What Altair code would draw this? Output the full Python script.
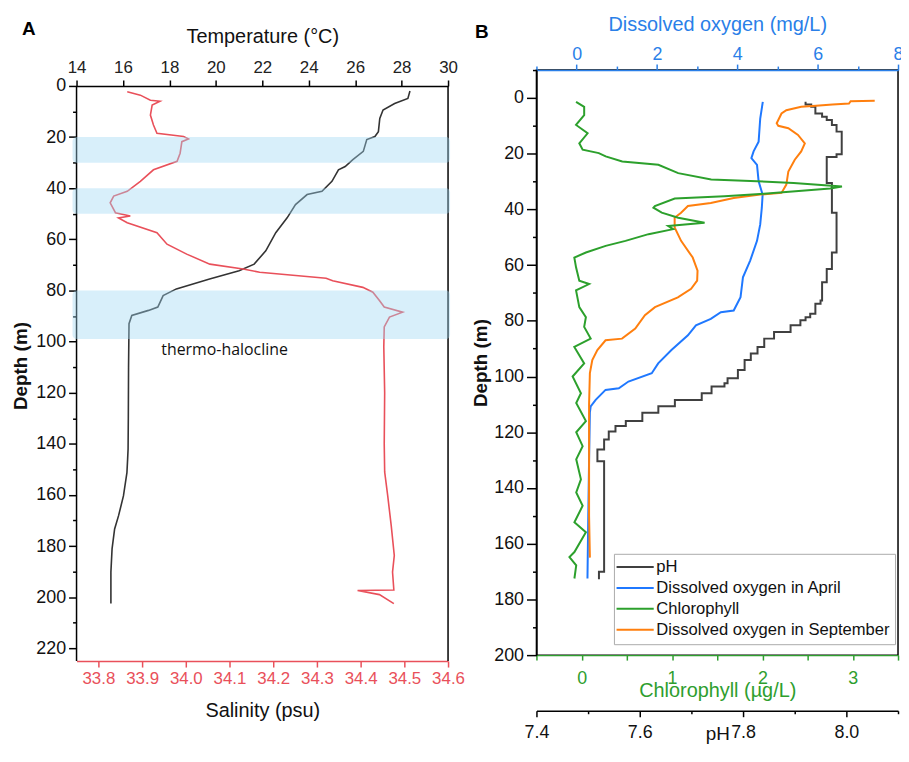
import altair as alt
import pandas as pd

FONT = "Liberation Sans"

# ---------------- Panel A data ----------------
temp_depth = [2, 4.9, 6.9, 9.4, 12.7, 17.9, 19.8, 21, 25.6, 28.8, 31.5, 32.8, 37.3, 41.2, 42.5,
              46.4, 51.6, 57.4, 64.5, 69.7, 72.3, 75.5, 79.4, 82, 86.5, 87.8, 89.8, 93, 110, 130,
              142, 146, 151.3, 160.4, 168.1, 173.3, 181.1, 190.2, 202.5]
temp_vals = [28.36, 28.27, 27.7, 27.2, 27.06, 27.0, 26.85, 26.5, 26.35, 25.9, 25.57, 25.28, 25.0,
             24.57, 23.93, 23.43, 23.07, 22.58, 22.15, 21.65, 21.0, 19.73, 18.3, 17.73, 17.5, 17.1,
             16.38, 16.26, 16.24, 16.23, 16.22, 16.2, 16.17, 16.02, 15.81, 15.64, 15.53, 15.48, 15.48]

sal_depth = [2.3, 3.6, 5.6, 6.0, 7.5, 11.4, 15.3, 18.5, 19.8, 20.7, 21.8, 26.3, 29.5, 32.8, 37.3,
             41.2, 43.1, 45.7, 49.6, 50.9, 51.6, 53.5, 57.4, 61.9, 65.8, 69.7, 71.6, 72.9, 75.2,
             76.2, 78.8, 80.7, 83.9, 86.5, 88.5, 90.4, 94.3, 102, 120, 140, 151, 160.4, 172,
             183.7, 190.2, 197.2, 197.4, 199, 202.5]
sal_vals = [33.866, 33.896, 33.919, 33.941, 33.923, 33.919, 33.926, 33.934, 33.995, 34.006, 33.991,
            33.987, 33.98, 33.926, 33.896, 33.866, 33.835, 33.827, 33.839, 33.873, 33.846, 33.866,
            33.934, 33.957, 34.002, 34.055, 34.131, 34.169, 34.321, 34.336, 34.405, 34.428, 34.443,
            34.454, 34.496, 34.466, 34.454, 34.453, 34.455, 34.454, 34.455, 34.462, 34.47, 34.477,
            34.473, 34.476, 34.393, 34.443, 34.476]

band_top = [20, 40, 80]
band_bottom = [30, 50, 99]

# ---------------- Panel B data ----------------
chl_depth = [1.4, 3.2, 6.2, 9.7, 12.7, 16.3, 18.6, 19.8, 21, 22.8, 24, 27, 29.3, 29.9, 30.5, 31.8,
             32.5, 34.4, 35.3, 36.1, 38.8, 39.4, 41.2, 43, 44.8, 46, 47.1, 48.9, 51.3, 53.1, 55.5,
             57.3, 60.8, 65.6, 66.8, 69.1, 75.1, 78.7, 82.2, 86.4, 89.4, 95.3, 100, 106, 109.5,
             116, 120, 125, 129.7, 136.9, 141.6, 146.4, 152.3, 155.9, 163, 164.8, 167.8, 172.5]
chl_vals = [-0.062, 0.028, 0.028, -0.062, 0.066, -0.026, 0.011, 0.19, 0.266, 0.449, 0.849, 1.068,
            1.433, 1.94, 2.345, 2.88, 2.75, 2.016, 1.58, 1.03, 0.81, 0.794, 0.886, 1.068, 1.36,
            0.958, 1.013, 0.74, 0.485, 0.266, 0.047, -0.081, -0.062, -0.026, 0.083, -0.062,
            -0.026, 0.047, 0.028, 0.10, -0.081, 0.028, -0.1, -0.008, -0.06, 0.047, -0.06, 0.011,
            -0.06, -0.008, -0.06, 0.011, -0.08, 0.047, -0.08, -0.135, -0.06, -0.08]

doa_depth = [1.4, 7.4, 15.7, 19.2, 21.6, 24, 29.9, 34.7, 39.4, 45.4, 51.3, 58.4, 64.4, 71.5, 76.3,
             76.9, 79.3, 81.6, 85.2, 90.5, 95.3, 98.8, 101.8, 104.2, 104.8, 108.4, 110.7, 113,
             130, 150, 172.5]
doa_vals = [4.634, 4.57, 4.53, 4.405, 4.35, 4.49, 4.53, 4.63, 4.61, 4.57, 4.49, 4.32, 4.14, 4.08,
            3.91, 3.59, 3.34, 2.97, 2.77, 2.36, 2.03, 1.87, 1.29, 1.05, 0.72, 0.474, 0.35, 0.33,
            0.31, 0.29, 0.27]

dos_depth = [1.0, 1.2, 2.0, 2.4, 2.8, 3.2, 4.4, 5.6, 9.1, 10, 10.9, 13.3, 16.3, 19.2, 22.2, 26.4,
             31.1, 34.1, 34.7, 35.9, 37.7, 38.8, 41.2, 43, 46.5, 51.3, 57.3, 62, 65.6, 68.5, 71.6,
             75.1, 78, 82.8, 86.4, 87, 90.5, 94.1, 98.8, 110, 130, 150, 165]
dos_vals = [7.42, 6.82, 6.78, 6.37, 5.96, 5.59, 5.22, 5.10, 4.98, 5.02, 5.27, 5.51, 5.68, 5.59,
            5.43, 5.27, 5.22, 5.10, 4.57, 3.91, 3.34, 2.77, 2.60, 2.44, 2.44, 2.60, 2.89, 3.01,
            3.0, 2.85, 2.52, 1.95, 1.70, 1.46, 1.13, 0.72, 0.516, 0.39, 0.33, 0.31, 0.31, 0.31,
            0.33]

ph_depth = [1.4, 2.4, 3.2, 5.6, 6.8, 7.9, 9.7, 12.1, 20.2, 21.2, 30.5, 41.2, 55.5, 61.4, 66.2,
            72.7, 73.9, 77.5, 78.7, 79.8, 81.6, 84, 86.4, 89.4, 91.7, 94.1, 97.7, 100.6, 102.4,
            103.6, 106, 108.4, 110.7, 113, 116, 117.8, 119.7, 122.6, 126.2, 130.4, 170.1, 172.8]
ph_vals = [7.921, 7.932, 7.94, 7.953, 7.962, 7.972, 7.981, 7.991, 7.981, 7.962, 7.972, 7.981,
           7.972, 7.962, 7.953, 7.95, 7.94, 7.93, 7.921, 7.911, 7.892, 7.86, 7.841, 7.828, 7.815,
           7.803, 7.79, 7.77, 7.764, 7.739, 7.72, 7.668, 7.636, 7.605, 7.573, 7.553, 7.54, 7.531,
           7.518, 7.531, 7.521, 7.521]

series_names = ["pH", "Dissolved oxygen in April", "Chlorophyll", "Dissolved oxygen in September"]
series_colors = ["#404040", "#1f78ff", "#2ca02c", "#ff7f0e"]

RED = "#e9505a"
BLUE = "#2a7fe8"
GREEN = "#2e9e2e"

# ---------------- tables ----------------
temp_df = pd.DataFrame({"depth": temp_depth, "temp": temp_vals, "i": range(len(temp_depth))})
sal_df = pd.DataFrame({"depth": sal_depth, "sal": sal_vals, "i": range(len(sal_depth))})
band_df = pd.DataFrame({"depth": band_top, "bottom": band_bottom})
note_df = pd.DataFrame({"depth": [103.4], "label": ["thermo-halocline"]})
frame_df = pd.DataFrame({"depth": [0], "bottom": [225]})

ph_df = pd.DataFrame({"depth": ph_depth, "ph": ph_vals, "i": range(len(ph_depth)),
                      "series": series_names[0]})
do_df = pd.concat([
    pd.DataFrame({"depth": doa_depth, "do": doa_vals, "i": range(len(doa_depth)),
                  "series": series_names[1]}),
    pd.DataFrame({"depth": dos_depth, "do": dos_vals, "i": range(len(dos_depth)),
                  "series": series_names[3]}),
])
chl_df = pd.DataFrame({"depth": chl_depth, "chl": chl_vals, "i": range(len(chl_depth)),
                       "series": series_names[2]})
letter_df = pd.DataFrame({"label": ["x"]})

WA, HA = 374, 595          # panel A plot area (depth 0 sits 16 px below its top)
WB, HB = 364, 589
A_TOP_DEPTH = -6.218       # depth at the top edge of panel A's area


def tick_cond(expr, big, small):
    return {"condition": {"test": expr, "value": big}, "value": small}


# ---------------- Panel A ----------------
yA_scale = alt.Scale(domain=[A_TOP_DEPTH, 225], reverse=True, nice=False, zero=False)
yA_axis = alt.Axis(
    title="Depth (m)", values=list(range(0, 221, 10)), domain=False,
    labelExpr="datum.value % 20 === 0 ? datum.label : ''",
    tickSize=tick_cond("datum.value % 20 === 0", 8, 4),
    labelPadding=3, labelFontSize=18, titleFontSize=19, titleFontWeight="bold",
    titlePadding=5, grid=False, labelOverlap=False, tickColor="black",
    labelColor="#111", titleColor="#111", tickWidth=1.5,
)

temp_line = alt.Chart(temp_df).mark_line(color="#333333", strokeWidth=1.6).encode(
    x=alt.X("temp:Q", scale=alt.Scale(domain=[14, 30], nice=False, zero=False),
            axis=alt.Axis(orient="top", offset=-16, title="Temperature (°C)",
                          values=list(range(14, 31, 2)),
                          tickSize=6, labelPadding=4, labelFontSize=17, titleFontSize=20,
                          titlePadding=12, titleFontWeight="normal", labelFlush=False,
                          labelOverlap=False, grid=False, domainColor="black", tickColor="black",
                          labelColor="#222", titleColor="#111", domainWidth=1.5, tickWidth=1.5)),
    y=alt.Y("depth:Q", scale=yA_scale, axis=yA_axis),
    order="i:Q",
)

sal_line = alt.Chart(sal_df).mark_line(color=RED, strokeWidth=1.6).encode(
    x=alt.X("sal:Q", scale=alt.Scale(domain=[33.75, 34.6], nice=False, zero=False),
            axis=alt.Axis(orient="bottom", title="Salinity (psu)",
                          values=[33.8, 33.9, 34.0, 34.1, 34.2, 34.3, 34.4, 34.5, 34.6],
                          format=".1f", tickSize=6, labelPadding=4, labelFontSize=17,
                          titleFontSize=20, titlePadding=14, titleFontWeight="normal",
                          labelFlush=False, labelOverlap=False, grid=False, domainColor=RED,
                          tickColor=RED, labelColor=RED, titleColor="#111", domainWidth=1.5,
                          tickWidth=1.5)),
    y=alt.Y("depth:Q", scale=yA_scale, axis=yA_axis),
    order="i:Q",
)

left_frame = alt.Chart(frame_df).mark_rule(color="black", strokeWidth=1.5).encode(
    x=alt.value(0), y=alt.Y("depth:Q", scale=yA_scale, axis=yA_axis), y2="bottom:Q")
right_frame = alt.Chart(frame_df).mark_rule(color="black", strokeWidth=1.5).encode(
    x=alt.value(WA), y=alt.Y("depth:Q", scale=yA_scale, axis=yA_axis), y2="bottom:Q")

bands = alt.Chart(band_df).mark_rect(color="#9ed6f2", opacity=0.4, cornerRadius=4).encode(
    y=alt.Y("depth:Q", scale=yA_scale, axis=yA_axis),
    y2="bottom:Q",
    x=alt.value(-4),
    x2=alt.value(WA + 2),
)

note = alt.Chart(note_df).mark_text(font="Open Sans", fontSize=16, color="#111").encode(
    y=alt.Y("depth:Q", scale=yA_scale, axis=yA_axis),
    x=alt.value(149),
    text="label:N",
)

letterA = alt.Chart(letter_df).mark_text(font=FONT, fontSize=19, fontWeight="bold",
                                         color="black").encode(
    x=alt.value(-48), y=alt.value(-41), text=alt.value("A"))

panelA = alt.layer(left_frame, right_frame, temp_line, sal_line, bands, note,
                   letterA).resolve_scale(x="independent").properties(
    width=WA, height=HA, view=alt.ViewBackground(stroke="transparent"))

# ---------------- Panel B ----------------
yB_scale = alt.Scale(domain=[-10, 200], reverse=True, nice=False, zero=False)
yB_axis = alt.Axis(
    title="Depth (m)", values=list(range(-10, 201, 10)),
    labelExpr="datum.value % 20 === 0 ? datum.label : ''",
    tickSize=tick_cond("datum.value % 20 === 0", 10, 4),
    labelPadding=3, labelFontSize=18, titleFontSize=19, titleFontWeight="bold",
    titlePadding=3, grid=False, labelOverlap=False, domainColor="black", tickColor="black",
    labelColor="#111", titleColor="#111", domainWidth=1.5, tickWidth=1.5,
)

cscale = alt.Scale(domain=series_names, range=series_colors)
legend = alt.Legend(title=None, orient="none", legendX=541, legendY=487,
                    symbolType="M-5,0H5", symbolSize=56, symbolStrokeWidth=2,
                    symbolOffset=8, labelOffset=13,
                    labelFontSize=16.7, labelFont=FONT,
                    labelColor="#111", strokeColor="#aaaaaa", fillColor="white", padding=5,
                    rowPadding=3, labelLimit=400)

ph_line = alt.Chart(ph_df).mark_line(strokeWidth=2, interpolate="step-before").encode(
    x=alt.X("ph:Q", scale=alt.Scale(domain=[7.4, 8.1], nice=False, zero=False),
            axis=alt.Axis(orient="bottom", offset=56, title="pH",
                          values=[7.4, 7.5, 7.6, 7.7, 7.8, 7.9, 8.0, 8.1], format=".1f",
                          labelExpr="round(datum.value * 10) % 2 === 0 ? datum.label : ''",
                          tickSize=tick_cond("round(datum.value * 10) % 2 === 0", 6, 3),
                          labelPadding=7, labelFontSize=18, titleFontSize=19, titleY=14,
                          titleBaseline="top", titleFontWeight="normal", labelFlush=False,
                          labelOverlap=False, grid=False, domainColor="black", tickColor="black",
                          labelColor="#111", titleColor="#111", domainWidth=1.5, tickWidth=1.5)),
    y=alt.Y("depth:Q", scale=yB_scale, axis=yB_axis),
    color=alt.Color("series:N", scale=cscale, legend=legend),
    order="i:Q",
)

do_lines = alt.Chart(do_df).mark_line(strokeWidth=2).encode(
    x=alt.X("do:Q", scale=alt.Scale(domain=[-1, 8], nice=False, zero=False),
            axis=alt.Axis(orient="top", title="Dissolved oxygen (mg/L)", values=list(range(-1, 9)),
                          labelExpr="datum.value % 2 === 0 ? datum.label : ''",
                          tickSize=tick_cond("datum.value % 2 === 0", 6, 4),
                          labelPadding=1, labelFontSize=18, titleFontSize=20, titlePadding=11,
                          titleFontWeight="normal", labelFlush=False, labelOverlap=False,
                          grid=False, domainColor=BLUE, tickColor=BLUE, labelColor=BLUE,
                          titleColor=BLUE, domainWidth=1.5, tickWidth=1.5)),
    y=alt.Y("depth:Q", scale=yB_scale, axis=yB_axis),
    color=alt.Color("series:N", scale=cscale, legend=legend),
    order="i:Q",
)

chl_line = alt.Chart(chl_df).mark_line(strokeWidth=2).encode(
    x=alt.X("chl:Q", scale=alt.Scale(domain=[-0.5, 3.5], nice=False, zero=False),
            axis=alt.Axis(orient="bottom", title="Chlorophyll (µg/L)",
                          values=[-0.5, 0, 0.5, 1, 1.5, 2, 2.5, 3, 3.5], format=".0f",
                          labelExpr="datum.value % 1 === 0 ? datum.label : ''",
                          tickSize=5, labelPadding=10, labelFontSize=18, titleFontSize=20,
                          titleY=26, titleBaseline="top", titleFontWeight="normal",
                          labelFlush=False, labelOverlap=False, grid=False, domainColor=GREEN,
                          tickColor=GREEN, labelColor=GREEN, titleColor=GREEN, domainWidth=1.5,
                          tickWidth=1.5)),
    y=alt.Y("depth:Q", scale=yB_scale, axis=yB_axis),
    color=alt.Color("series:N", scale=cscale, legend=legend),
    order="i:Q",
)

letterB = alt.Chart(letter_df).mark_text(font=FONT, fontSize=19, fontWeight="bold",
                                         color="black").encode(
    x=alt.value(-55), y=alt.value(-38), text=alt.value("B"))

panelB = alt.layer(ph_line, do_lines, chl_line, letterB).resolve_scale(
    x="independent").properties(width=WB, height=HB)

chart = alt.hconcat(panelA, panelB, spacing=5).properties(
    padding={"left": 3, "top": 3, "right": -3, "bottom": -3}
).configure_view(stroke="black", strokeWidth=1.5).configure_axis(
    labelFont=FONT, titleFont=FONT
).configure_text(font=FONT)

chart.save("out.html", embed_options={"renderer": "svg", "actions": False})
